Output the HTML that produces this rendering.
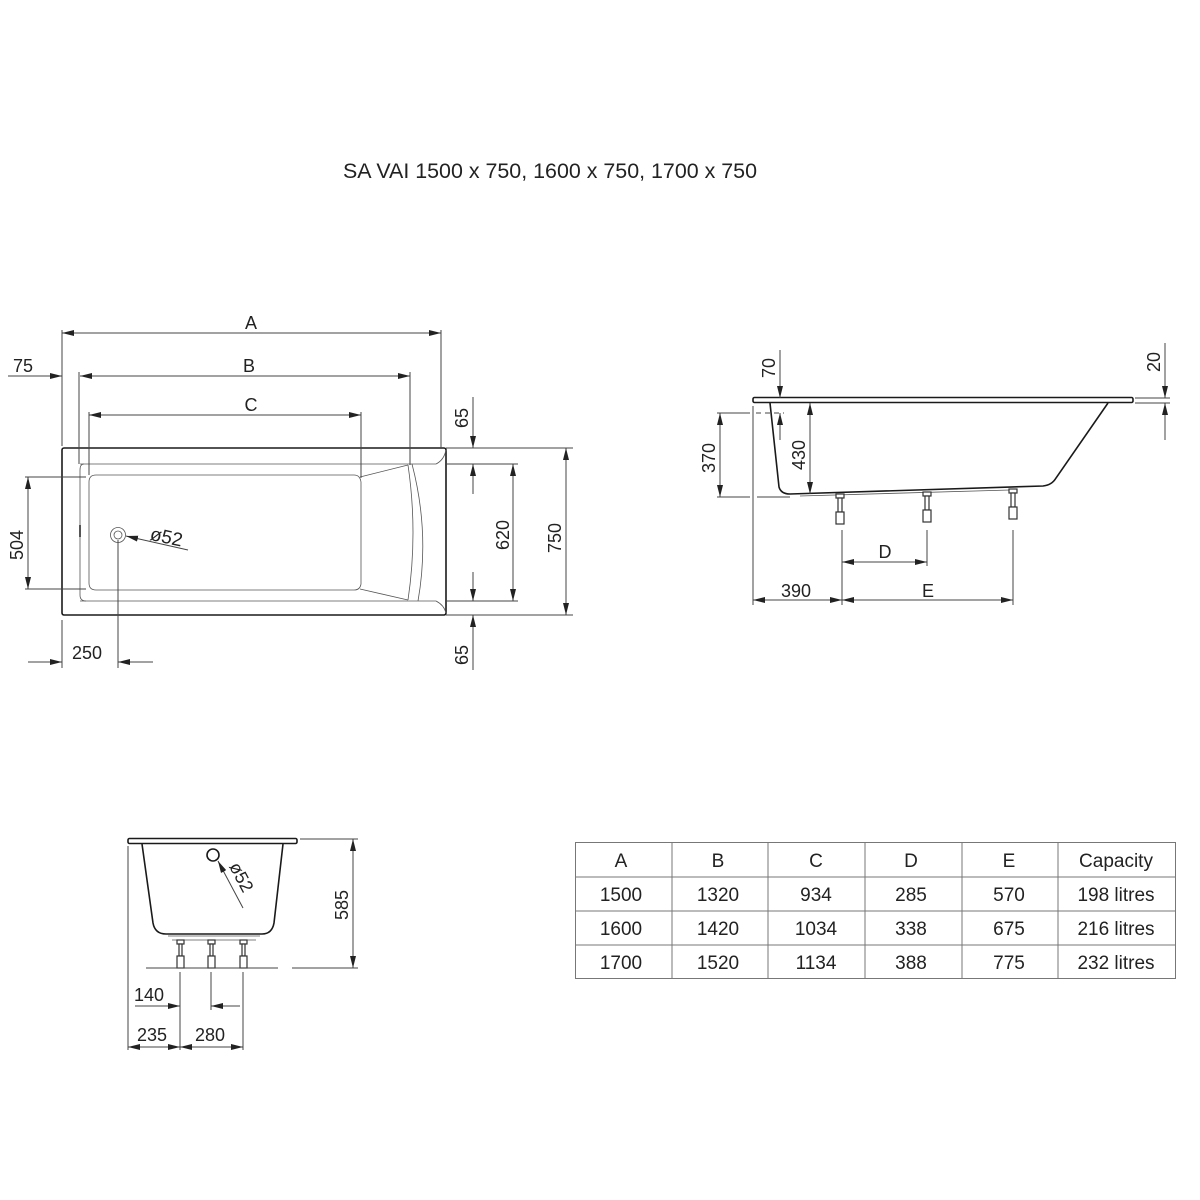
<!DOCTYPE html>
<html><head><meta charset="utf-8"><style>
html,body{margin:0;padding:0;background:#fff}
svg{display:block}
text{font-family:"Liberation Sans",sans-serif;fill:#222}
.d{stroke:#444;stroke-width:1;fill:none}
.o{stroke:#1a1a1a;stroke-width:1.6;fill:none}
.t{stroke:#555;stroke-width:0.8;fill:none}
</style></head><body>
<svg width="1200" height="1200" viewBox="0 0 1200 1200" xmlns="http://www.w3.org/2000/svg">
<defs>
<marker id="a" viewBox="0 0 12 6" refX="12" refY="3" markerWidth="12" markerHeight="6" orient="auto" markerUnits="userSpaceOnUse"><path d="M0,0 L12,3 L0,6 z" fill="#222"/></marker>
<marker id="s" viewBox="0 0 12 6" refX="0" refY="3" markerWidth="12" markerHeight="6" orient="auto" markerUnits="userSpaceOnUse"><path d="M12,0 L0,3 L12,6 z" fill="#222"/></marker>
</defs>

<text x="343" y="178" font-size="21" textLength="414" lengthAdjust="spacingAndGlyphs">SA VAI  1500 x 750, 1600 x 750, 1700 x 750</text>

<!-- TOP VIEW -->
<rect x="62" y="448" width="384" height="167" rx="2" class="o"/>
<path class="t" d="M80,464 H436 Q444,460 446,450 M80,601 H436 Q444,605 446,613"/>
<path class="t" d="M84,464 Q80,464 80,470 V595 Q80,601 86,601"/>
<path class="t" d="M96,475 H354 Q360,475 361,482 V584 Q360,590 354,590 H96 Q89,590 89,583 V482 Q89,475 96,475 Z"/>
<path class="t" d="M360,477 L408,465 M360,589 L408,600"/>
<path class="t" d="M408,465 Q418,533 408,600 M412,464 Q430,533 418,601"/>
<line x1="80" y1="525" x2="80" y2="537" stroke="#555" stroke-width="2"/>
<circle cx="118" cy="535" r="7.5" class="t"/><circle cx="118" cy="535" r="4" class="t"/>
<line x1="188" y1="550" x2="126" y2="536" class="d" marker-end="url(#a)"/>
<text x="150" y="543" font-size="19" transform="rotate(12 165 537)">ø52</text>
<!-- A -->
<line x1="62" y1="330" x2="62" y2="446" class="d"/><line x1="441" y1="330" x2="441" y2="448" class="d"/>
<line x1="62" y1="333" x2="441" y2="333" class="d" marker-start="url(#s)" marker-end="url(#a)"/>
<text x="251" y="329" font-size="18" text-anchor="middle">A</text>
<!-- B -->
<line x1="79" y1="372" x2="79" y2="464" class="d"/><line x1="410" y1="372" x2="410" y2="465" class="d"/>
<line x1="80" y1="376" x2="410" y2="376" class="d" marker-start="url(#s)" marker-end="url(#a)"/>
<line x1="8" y1="376" x2="62" y2="376" class="d" marker-end="url(#a)"/>
<text x="249" y="372" font-size="18" text-anchor="middle">B</text>
<text x="23" y="372" font-size="18" text-anchor="middle">75</text>
<!-- C -->
<line x1="89" y1="412" x2="89" y2="475" class="d"/><line x1="361" y1="412" x2="361" y2="478" class="d"/>
<line x1="89" y1="415" x2="361" y2="415" class="d" marker-start="url(#s)" marker-end="url(#a)"/>
<text x="251" y="411" font-size="18" text-anchor="middle">C</text>
<!-- 504 -->
<line x1="25" y1="477" x2="86" y2="477" class="d"/><line x1="25" y1="589" x2="86" y2="589" class="d"/>
<line x1="28" y1="477" x2="28" y2="589" class="d" marker-start="url(#s)" marker-end="url(#a)"/>
<text x="0" y="0" font-size="18" text-anchor="middle" transform="translate(23 545) rotate(-90)">504</text>
<!-- 620 / 750 -->
<line x1="446" y1="464" x2="518" y2="464" class="d"/><line x1="446" y1="601" x2="518" y2="601" class="d"/>
<line x1="446" y1="448" x2="573" y2="448" class="d"/><line x1="446" y1="615" x2="573" y2="615" class="d"/>
<line x1="513" y1="464" x2="513" y2="601" class="d" marker-start="url(#s)" marker-end="url(#a)"/>
<line x1="566" y1="448" x2="566" y2="615" class="d" marker-start="url(#s)" marker-end="url(#a)"/>
<text font-size="18" text-anchor="middle" transform="translate(509 535) rotate(-90)">620</text>
<text font-size="18" text-anchor="middle" transform="translate(561 538) rotate(-90)">750</text>
<!-- 65s -->
<line x1="473" y1="397" x2="473" y2="448" class="d" marker-end="url(#a)"/>
<line x1="473" y1="494" x2="473" y2="464" class="d" marker-end="url(#a)"/>
<line x1="473" y1="572" x2="473" y2="601" class="d" marker-end="url(#a)"/>
<line x1="473" y1="670" x2="473" y2="615" class="d" marker-end="url(#a)"/>
<text font-size="18" text-anchor="middle" transform="translate(468 418) rotate(-90)">65</text>
<text font-size="18" text-anchor="middle" transform="translate(468 655) rotate(-90)">65</text>
<!-- 250 -->
<line x1="62" y1="620" x2="62" y2="668" class="d"/><line x1="118" y1="540" x2="118" y2="668" class="d"/>
<line x1="28" y1="662" x2="62" y2="662" class="d" marker-end="url(#a)"/>
<line x1="153" y1="662" x2="118" y2="662" class="d" marker-end="url(#a)"/>
<text x="87" y="659" font-size="18" text-anchor="middle">250</text>

<!-- SIDE VIEW -->
<rect x="753" y="397.5" width="380" height="5" rx="1.5" class="o"/>
<path class="o" d="M770,403 L779,487 Q781,494 790,494 L1043,486 Q1052,485 1056,478 L1108,403"/>
<path class="t" d="M800,496 L1010,490"/>
<g stroke="#333" stroke-width="1.2" fill="#fff">
<rect x="836" y="494" width="8" height="4"/><rect x="838" y="498" width="4" height="14"/><rect x="836" y="512" width="8" height="12"/>
<rect x="923" y="492" width="8" height="4"/><rect x="925" y="496" width="4" height="14"/><rect x="923" y="510" width="8" height="12"/>
<rect x="1009" y="489" width="8" height="4"/><rect x="1011" y="493" width="4" height="14"/><rect x="1009" y="507" width="8" height="12"/>
</g>
<!-- 70 -->
<line x1="780" y1="350" x2="780" y2="398" class="d" marker-end="url(#a)"/>
<line x1="780" y1="440" x2="780" y2="413" class="d" marker-end="url(#a)"/>
<text font-size="18" text-anchor="middle" transform="translate(775 368) rotate(-90)">70</text>
<!-- 430 -->
<line x1="810" y1="403" x2="810" y2="494" class="d" marker-start="url(#s)" marker-end="url(#a)"/>
<text font-size="18" text-anchor="middle" transform="translate(805 455) rotate(-90)">430</text>
<!-- 370 -->
<line x1="717" y1="413" x2="750" y2="413" class="d"/><line x1="756" y1="413" x2="784" y2="413" class="d" stroke-dasharray="5 4"/>
<line x1="717" y1="497" x2="750" y2="497" class="d"/><line x1="757" y1="497" x2="790" y2="497" class="d"/>
<line x1="720" y1="413" x2="720" y2="497" class="d" marker-start="url(#s)" marker-end="url(#a)"/>
<text font-size="18" text-anchor="middle" transform="translate(715 458) rotate(-90)">370</text>
<!-- 20 -->
<line x1="1135" y1="398" x2="1170" y2="398" class="d"/><line x1="1135" y1="403" x2="1170" y2="403" class="d"/>
<line x1="1165" y1="343" x2="1165" y2="398" class="d" marker-end="url(#a)"/>
<line x1="1165" y1="440" x2="1165" y2="403" class="d" marker-end="url(#a)"/>
<text font-size="18" text-anchor="middle" transform="translate(1160 362) rotate(-90)">20</text>
<!-- D E 390 -->
<line x1="753" y1="406" x2="753" y2="605" class="d"/>
<line x1="842" y1="530" x2="842" y2="605" class="d"/><line x1="927" y1="530" x2="927" y2="566" class="d"/><line x1="1013" y1="530" x2="1013" y2="605" class="d"/>
<line x1="842" y1="562" x2="927" y2="562" class="d" marker-start="url(#s)" marker-end="url(#a)"/>
<line x1="753" y1="600" x2="842" y2="600" class="d" marker-start="url(#s)" marker-end="url(#a)"/>
<line x1="842" y1="600" x2="1013" y2="600" class="d" marker-start="url(#s)" marker-end="url(#a)"/>
<text x="885" y="558" font-size="18" text-anchor="middle">D</text>
<text x="928" y="597" font-size="18" text-anchor="middle">E</text>
<text x="796" y="597" font-size="18" text-anchor="middle">390</text>

<!-- END VIEW -->
<rect x="128" y="838.5" width="169" height="5" rx="1.5" class="o"/>
<path class="o" d="M142,844 L153,923 Q155,934 166,934 L262,934 Q272,934 274,923 L283,844"/>
<circle cx="213" cy="855" r="6" class="o" stroke-width="1.3"/>
<line x1="243" y1="908" x2="218" y2="861" class="d" marker-end="url(#a)"/>
<text font-size="18" text-anchor="middle" transform="translate(236 880) rotate(62)">ø52</text>
<path class="t" d="M168,936 H260 M172,940 H256"/>
<g stroke="#333" stroke-width="1.2" fill="#fff">
<rect x="177" y="940" width="7" height="4"/><rect x="179" y="944" width="3" height="12"/><rect x="177" y="956" width="7" height="12"/>
<rect x="208" y="940" width="7" height="4"/><rect x="210" y="944" width="3" height="12"/><rect x="208" y="956" width="7" height="12"/>
<rect x="240" y="940" width="7" height="4"/><rect x="242" y="944" width="3" height="12"/><rect x="240" y="956" width="7" height="12"/>
</g>
<line x1="146" y1="968" x2="278" y2="968" class="d"/><line x1="292" y1="968" x2="358" y2="968" class="d"/>
<line x1="300" y1="839" x2="358" y2="839" class="d"/>
<line x1="353" y1="839" x2="353" y2="968" class="d" marker-start="url(#s)" marker-end="url(#a)"/>
<text font-size="18" text-anchor="middle" transform="translate(348 905) rotate(-90)">585</text>
<line x1="128" y1="846" x2="128" y2="1050" class="d"/>
<line x1="180" y1="972" x2="180" y2="1050" class="d"/><line x1="211" y1="972" x2="211" y2="1010" class="d"/><line x1="243" y1="972" x2="243" y2="1050" class="d"/>
<line x1="135" y1="1006" x2="180" y2="1006" class="d" marker-end="url(#a)"/>
<line x1="240" y1="1006" x2="211" y2="1006" class="d" marker-end="url(#a)"/>
<line x1="128" y1="1047" x2="180" y2="1047" class="d" marker-start="url(#s)" marker-end="url(#a)"/>
<line x1="180" y1="1047" x2="243" y2="1047" class="d" marker-start="url(#s)" marker-end="url(#a)"/>
<text x="149" y="1001" font-size="18" text-anchor="middle">140</text>
<text x="152" y="1041" font-size="18" text-anchor="middle">235</text>
<text x="210" y="1041" font-size="18" text-anchor="middle">280</text>

<!-- TABLE -->
<g stroke="#777" stroke-width="1" fill="none">
<rect x="575.5" y="842.5" width="600" height="136"/>
<line x1="575" y1="877" x2="1175" y2="877"/><line x1="575" y1="911" x2="1175" y2="911"/><line x1="575" y1="945" x2="1175" y2="945"/>
<line x1="672" y1="842" x2="672" y2="979"/><line x1="768" y1="842" x2="768" y2="979"/><line x1="865" y1="842" x2="865" y2="979"/><line x1="962" y1="842" x2="962" y2="979"/><line x1="1058" y1="842" x2="1058" y2="979"/>
</g>
<g font-size="19" text-anchor="middle">
<text x="621" y="867">A</text><text x="718" y="867">B</text><text x="816" y="867">C</text><text x="911" y="867">D</text><text x="1009" y="867">E</text><text x="1116" y="867">Capacity</text>
<text x="621" y="901">1500</text><text x="718" y="901">1320</text><text x="816" y="901">934</text><text x="911" y="901">285</text><text x="1009" y="901">570</text><text x="1116" y="901">198 litres</text>
<text x="621" y="935">1600</text><text x="718" y="935">1420</text><text x="816" y="935">1034</text><text x="911" y="935">338</text><text x="1009" y="935">675</text><text x="1116" y="935">216 litres</text>
<text x="621" y="969">1700</text><text x="718" y="969">1520</text><text x="816" y="969">1134</text><text x="911" y="969">388</text><text x="1009" y="969">775</text><text x="1116" y="969">232 litres</text>
</g>
</svg>
</body></html>
